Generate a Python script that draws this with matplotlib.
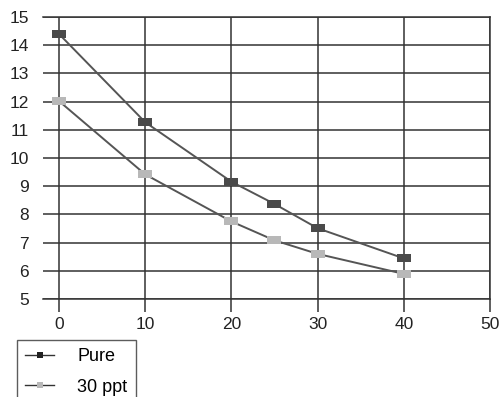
import matplotlib
matplotlib.use('Agg')
import matplotlib.pyplot as plt

plt.rcParams['font.family'] = ['Liberation Sans', 'DejaVu Sans']

x_vals = [0, 10, 20, 25, 30, 40]
pure = [14.4, 11.27, 9.16, 8.37, 7.51, 6.44]
ppt30 = [12.02, 9.42, 7.75, 7.08, 6.6, 5.89]
labels = ['Pure', '30 ppt']

rect = [(-1, -0.55), (1, -0.55), (1, 0.55), (-1, 0.55), (-1, -0.55)]

fig = plt.figure(figsize=(5.04, 3.97), dpi=100)
ax = fig.add_axes([43 / 504, 1 - 299 / 397, 447 / 504, 282 / 397])

ax.plot(x_vals, pure, color='#555555', linewidth=1.4, marker=rect, markersize=10.5,
        markerfacecolor='#4a4a4a', markeredgewidth=0, label=labels[0], clip_on=False)
ax.plot(x_vals, ppt30, color='#555555', linewidth=1.4, marker=rect, markersize=10.5,
        markerfacecolor='#b8b8b8', markeredgewidth=0, label=labels[1], clip_on=False)

ax.set_xlim(-1.85, 50)
ax.set_ylim(5, 15)
ax.set_xticks(range(0, 51, 10))
ax.set_yticks(range(5, 16))
ax.grid(True, color='#333333', linewidth=1.1)
ax.set_axisbelow(True)
for s in ['top', 'bottom', 'right']:
    ax.spines[s].set_color('#333333')
    ax.spines[s].set_linewidth(1.1)
ax.spines['left'].set_visible(False)
ax.tick_params(axis='x', direction='out', length=9, width=1.1, color='#333333',
               labelsize=12.5, labelcolor='#222222', pad=4)
ax.tick_params(axis='y', length=0, labelsize=12.5, labelcolor='#222222', pad=10)

h1 = plt.Line2D([], [], color='#333333', linewidth=1.0, marker='s', markersize=5,
                markerfacecolor='#222222', markeredgewidth=0)
h2 = plt.Line2D([], [], color='#333333', linewidth=1.0, marker='s', markersize=5,
                markerfacecolor='#b8b8b8', markeredgewidth=0)
leg = fig.legend([h1, h2], labels, loc='upper left',
                 bbox_to_anchor=(17 / 504, 1 - 340 / 397), fontsize=13,
                 frameon=True, fancybox=False, edgecolor='#333333',
                 handlelength=1.6, handletextpad=1.3, borderpad=0.45,
                 labelspacing=0.75, borderaxespad=0)
leg.get_frame().set_linewidth(1.0)
leg.set_clip_on(False)

plt.savefig('out.png', dpi=100)
